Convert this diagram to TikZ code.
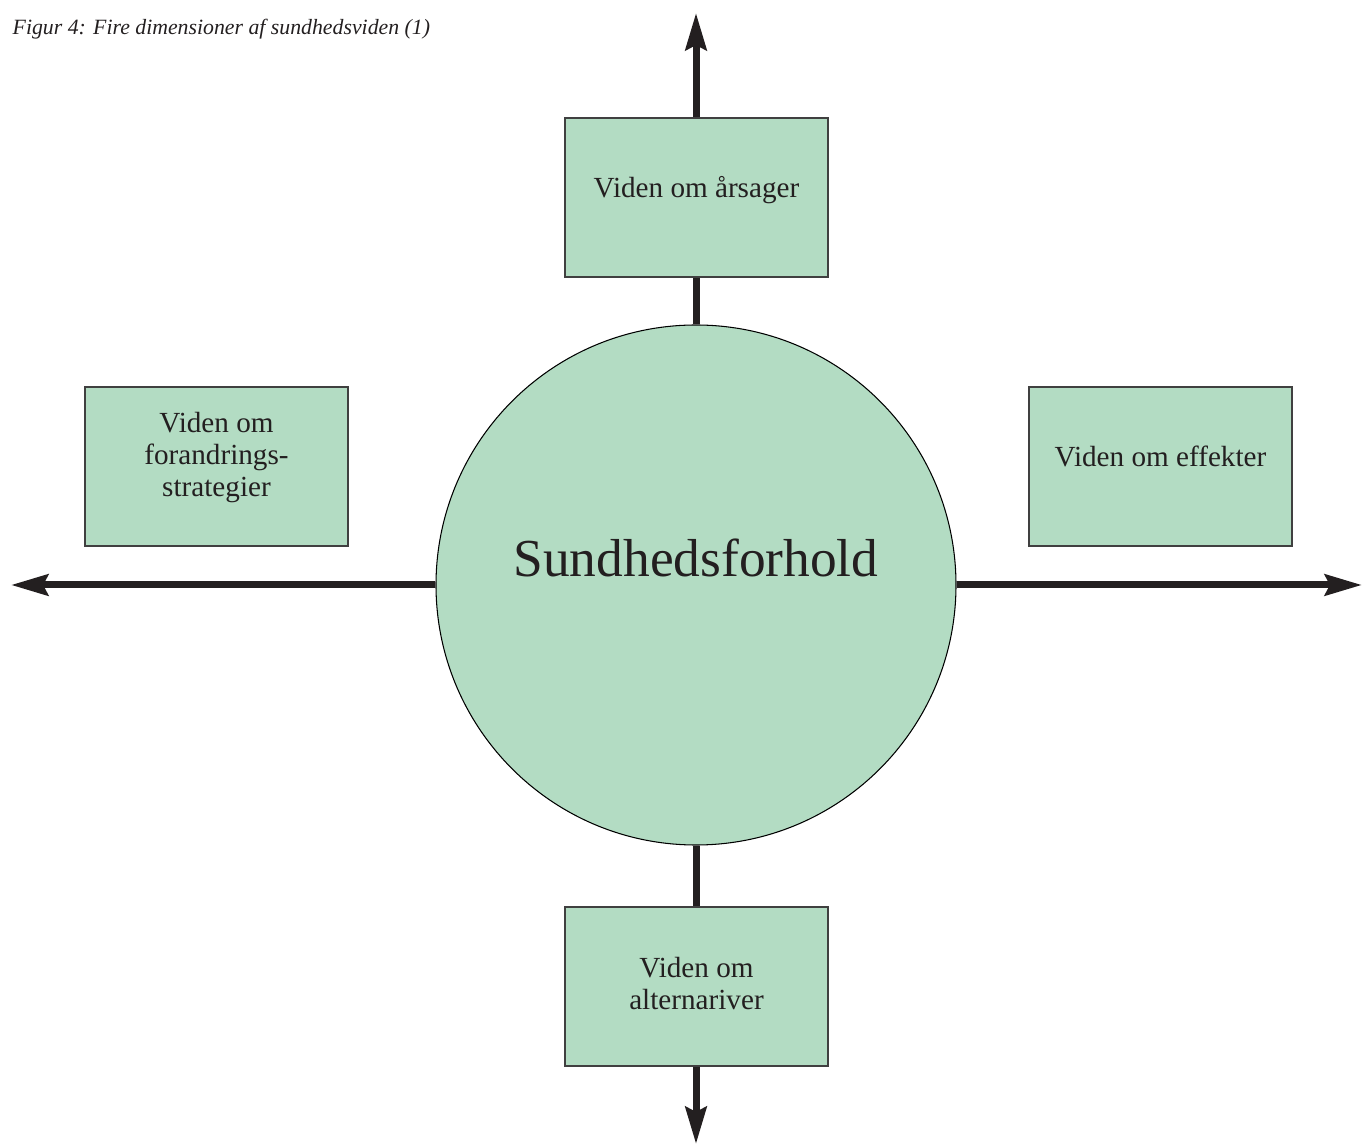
\documentclass[tikz,border=0pt]{standalone}
\usepackage{fontspec}
\setmainfont{Liberation Serif}
\usetikzlibrary{arrows.meta}
\definecolor{boksgroen}{RGB}{179,220,195}
\definecolor{streg}{RGB}{35,31,32}
\tikzset{
  akse/.style={line width=0.07cm, draw=streg, -{Stealth[length=0.37cm,width=0.21cm,inset=0.05cm]}},
  stamme/.style={line width=0.07cm, draw=streg},
  boks/.style={draw=black!75, line width=0.45pt, fill=boksgroen, text=streg,
    minimum width=2.63cm, minimum height=1.59cm, inner sep=0pt, align=center,
    font=\fontsize{8.3}{9.1}\selectfont},
  enlinje/.style={text height=0.2cm, text depth=0.2cm},
  midte/.style={circle, draw=black, line width=0.3pt, fill=boksgroen, text=streg,
    minimum size=5.2cm, inner sep=0pt, font=\fontsize{15.2}{18}\selectfont,
    text height=0.37cm, text depth=0.53cm}
}
\begin{document}
\begin{tikzpicture}
    \useasboundingbox (0,0) rectangle (13.62,-11.44);
    % titel:
    \node[anchor=base west, inner sep=0pt, text=streg, font=\fontsize{6.2}{7}\selectfont\itshape] (titel) at (0.12,-0.35) {Figur 4: Fire dimensioner af sundhedsviden (1)};
    % midte:
    \node[midte] (sund) at (6.96,-5.85) {Sundhedsforhold};
    % boksene:
    \node[boks, enlinje] (arsag) at (6.965,-1.975) {Viden om årsager};
    \node[boks, text depth=0.25cm] (strat) at (2.165,-4.665) {Viden om\\forandrings-\\strategier};
    \node[boks, enlinje] (effekt) at (11.605,-4.665) {Viden om effekter};
    \node[boks, text depth=0.07cm] (alt) at (6.965,-9.865) {Viden om\\alternariver};
    % pilespidser:
    \coordinate (optop) at (6.96,-0.13);
    \coordinate (venstre) at (0.11,-5.85);
    \coordinate (hoejre) at (13.62,-5.85);
    \coordinate (bund) at (6.96,-11.44);
    % akserne:
    \draw[stamme] (sund.north) -- (sund.north |- arsag.south);
    \draw[akse] (sund.north |- arsag.north) -- (optop);
    \draw[akse] (sund.west) -- (venstre);
    \draw[akse] (sund.east) -- (hoejre);
    \draw[stamme] (sund.south) -- (sund.south |- alt.north);
    \draw[akse] (sund.south |- alt.south) -- (bund);
\end{tikzpicture}
\end{document}
